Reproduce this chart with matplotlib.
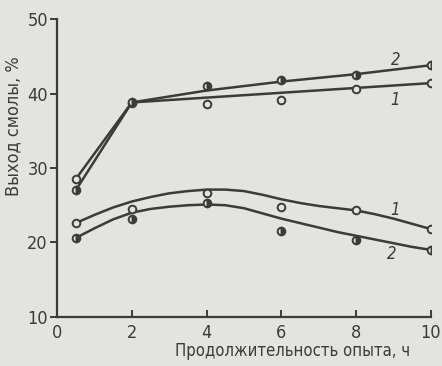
import matplotlib
matplotlib.use("Agg")
import matplotlib.pyplot as plt

# measured points (hours, resin yield %)
hours = [0.5, 2, 4, 6, 8, 10]
upper_open = [28.5, 38.7, 38.6, 39.1, 40.6, 41.4]      # curve 1, upper group
upper_filled = [27.0, 38.9, 41.0, 41.8, 42.5, 43.8]    # curve 2, upper group
lower_open = [22.6, 24.5, 26.7, 24.7, 24.3, 21.8]      # curve 1, lower group
lower_filled = [20.6, 23.1, 25.3, 21.5, 20.3, 19.0]    # curve 2, lower group

# hand-drawn trend lines
up1_x = [0.5, 2, 6, 10]
up1_y = [28.5, 38.8, 40.1, 41.4]
up2_x = [0.5, 2, 4, 6, 8, 10]
up2_y = [27.0, 38.8, 40.4, 41.6, 42.6, 43.8]

fit_x = [0.5, 1, 1.5, 2, 2.5, 3, 3.5, 4, 4.5, 5, 5.5, 6, 6.5, 7, 7.5, 8, 8.5, 9, 9.5, 10]
low1_y = [22.6, 23.7, 24.7, 25.5, 26.1, 26.6, 26.9, 27.1, 27.1, 26.9, 26.4, 25.8,
          25.3, 24.9, 24.6, 24.3, 23.8, 23.2, 22.5, 21.8]
low2_y = [20.6, 21.9, 23.1, 24.0, 24.5, 24.8, 25.0, 25.1, 25.0, 24.6, 23.9, 23.2,
          22.6, 22.0, 21.4, 20.9, 20.4, 19.9, 19.4, 19.0]

ink = "#3b3b3b"
paper = "#e3e3df"

plt.rcParams["font.family"] = ["DejaVu Sans"]
plt.rcParams["font.stretch"] = "condensed"

fig = plt.figure(figsize=(4.42, 3.66), dpi=100, facecolor=paper)
ax = fig.add_axes([0.129, 0.134, 0.846, 0.814])
ax.set_facecolor(paper)

for xs, ys in [(up1_x, up1_y), (up2_x, up2_y), (fit_x, low1_y), (fit_x, low2_y)]:
    ax.plot(xs, ys, color=ink, lw=1.8, solid_capstyle="round", zorder=2)

for ys in [upper_open, lower_open]:
    ax.plot(hours, ys, ls="none", marker="o", ms=5.5, mfc=paper, mec=ink, mew=1.4, zorder=3)
for ys in [upper_filled, lower_filled]:
    ax.plot(hours, ys, ls="none", marker="o", ms=5.5, mfc=ink, mec=ink, mew=1.4,
            fillstyle="right", markerfacecoloralt=paper, zorder=3)

# curve numbers
for x, y, t in [(9.05, 44.5, "2"), (9.05, 39.1, "1"), (9.03, 24.4, "1"), (8.94, 18.5, "2")]:
    ax.text(x, y, t, fontsize=12, style="italic", color=ink, ha="center", va="center")

ax.set_xlim(0, 10)
ax.set_ylim(10, 50)
ax.set_xticks([0, 2, 4, 6, 8, 10])
ax.set_yticks([10, 20, 30, 40, 50])
ax.spines["top"].set_visible(False)
ax.spines["right"].set_visible(False)
for s in ["left", "bottom"]:
    ax.spines[s].set_color(ink)
    ax.spines[s].set_linewidth(1.6)
ax.tick_params(axis="x", direction="in", length=5, width=1.4, color=ink,
               labelsize=13, labelcolor=ink, pad=5)
ax.tick_params(axis="y", direction="out", length=5, width=1.4, color=ink,
               labelsize=13, labelcolor=ink, pad=1.5)

ax.set_xlabel("Продолжительность опыта, ч", fontsize=12, color=ink)
ax.xaxis.set_label_coords(0.63, -0.085)
ax.set_ylabel("Выход смолы, %", fontsize=13, color=ink)
ax.yaxis.set_label_coords(-0.092, 0.64)

fig.savefig("out.png", dpi=100, facecolor=paper)
